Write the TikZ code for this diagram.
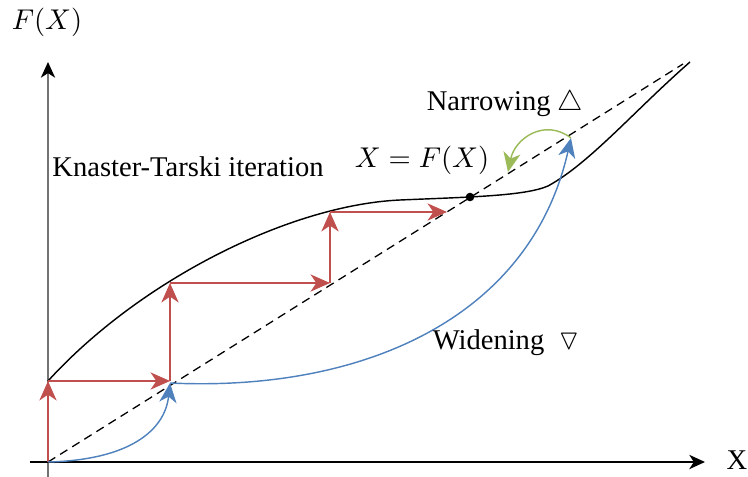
\documentclass[tikz,border=0pt]{standalone}
\usepackage{amsmath, amssymb}
\usepackage[no-math]{fontspec}
\setmainfont{Liberation Serif}
\usetikzlibrary{arrows.meta}

\definecolor{iterred}{RGB}{192,80,77}
\definecolor{widenblue}{RGB}{79,129,189}
\definecolor{narrowgreen}{RGB}{155,187,89}

\tikzset{
    axis/.style={line width=0.6pt, -{Stealth[black, length=5.5pt, width=5pt, inset=1.6pt]}},
    iterstep/.style={iterred, line width=0.5pt, -{Stealth[length=6.8pt, width=6pt, inset=2pt]}},
    widenstep/.style={widenblue, line width=0.5pt, -{Stealth[length=6.8pt, width=6pt, inset=2pt]}},
    narrowstep/.style={narrowgreen, line width=0.5pt, -{Stealth[length=6.8pt, width=6pt, inset=2pt]}},
}

\begin{document}
\begin{tikzpicture}[>=Stealth, x=0.35pt, y=-0.35pt]
    \useasboundingbox (0,0) rectangle (748,477);
    % axes
    \coordinate (o) at (48,462);
    \coordinate (ybot) at (48,477);
    \coordinate (ytop) at (48,62);
    \coordinate (xbeg) at (30,462);
    \coordinate (xend) at (705,462);
    \draw[axis, black!55] (ybot) -- (ytop);
    \draw[axis] (xbeg) -- (xend);
    \node (fx) at (47,22) {$F(X)$};
    \node (xlab) at (737,460) {X};

    % diagonal and F
    \coordinate (diagend) at (683,64);
    \draw[dashed, dash pattern=on 3pt off 2pt, line width=0.45pt] (o) -- (diagend);
    \draw[line width=0.5pt] (48,381) .. controls (140,280) and (290,205) .. (400,200)
        .. controls (470,197) and (525,196) .. (548,186)
        .. controls (590,163) and (635,110) .. (690,62);
    \fill (470,197) circle (1.5pt) coordinate (fix);

    % Kleene steps
    \coordinate (k1) at (48,381);
    \coordinate (k2) at (170,381);
    \coordinate (k3) at (170,283);
    \coordinate (k4) at (330,283);
    \coordinate (k5) at (330,212);
    \coordinate (k6) at (447,212);
    \draw[iterstep] (o) -- (k1);
    \draw[iterstep] (k1) -- (k2);
    \draw[iterstep] (k2) -- (k3);
    \draw[iterstep] (k3) -- (k4);
    \draw[iterstep] (k4) -- (k5);
    \draw[iterstep] (k5) -- (k6);

    % widening and narrowing
    \coordinate (w1) at (170,383);
    \coordinate (w2) at (571,138);
    \coordinate (n1) at (508,172);
    \draw[widenstep] (o) .. controls (130,460) and (165,430) .. (w1);
    \draw[widenstep] (w1) .. controls (360,392) and (530,320) .. (w2);
    \draw[narrowstep] (w2) .. controls (545,118) and (515,138) .. (n1);

    \node (kt) at (188,167) {Knaster-Tarski iteration};
    \node (fixlab) at (422,160) {$X = F(X)$};
    \node (narrow) at (505,104) {Narrowing $\triangle$};
    \node (widen) at (506,343) {Widening~~$\triangledown$};
\end{tikzpicture}
\end{document}
